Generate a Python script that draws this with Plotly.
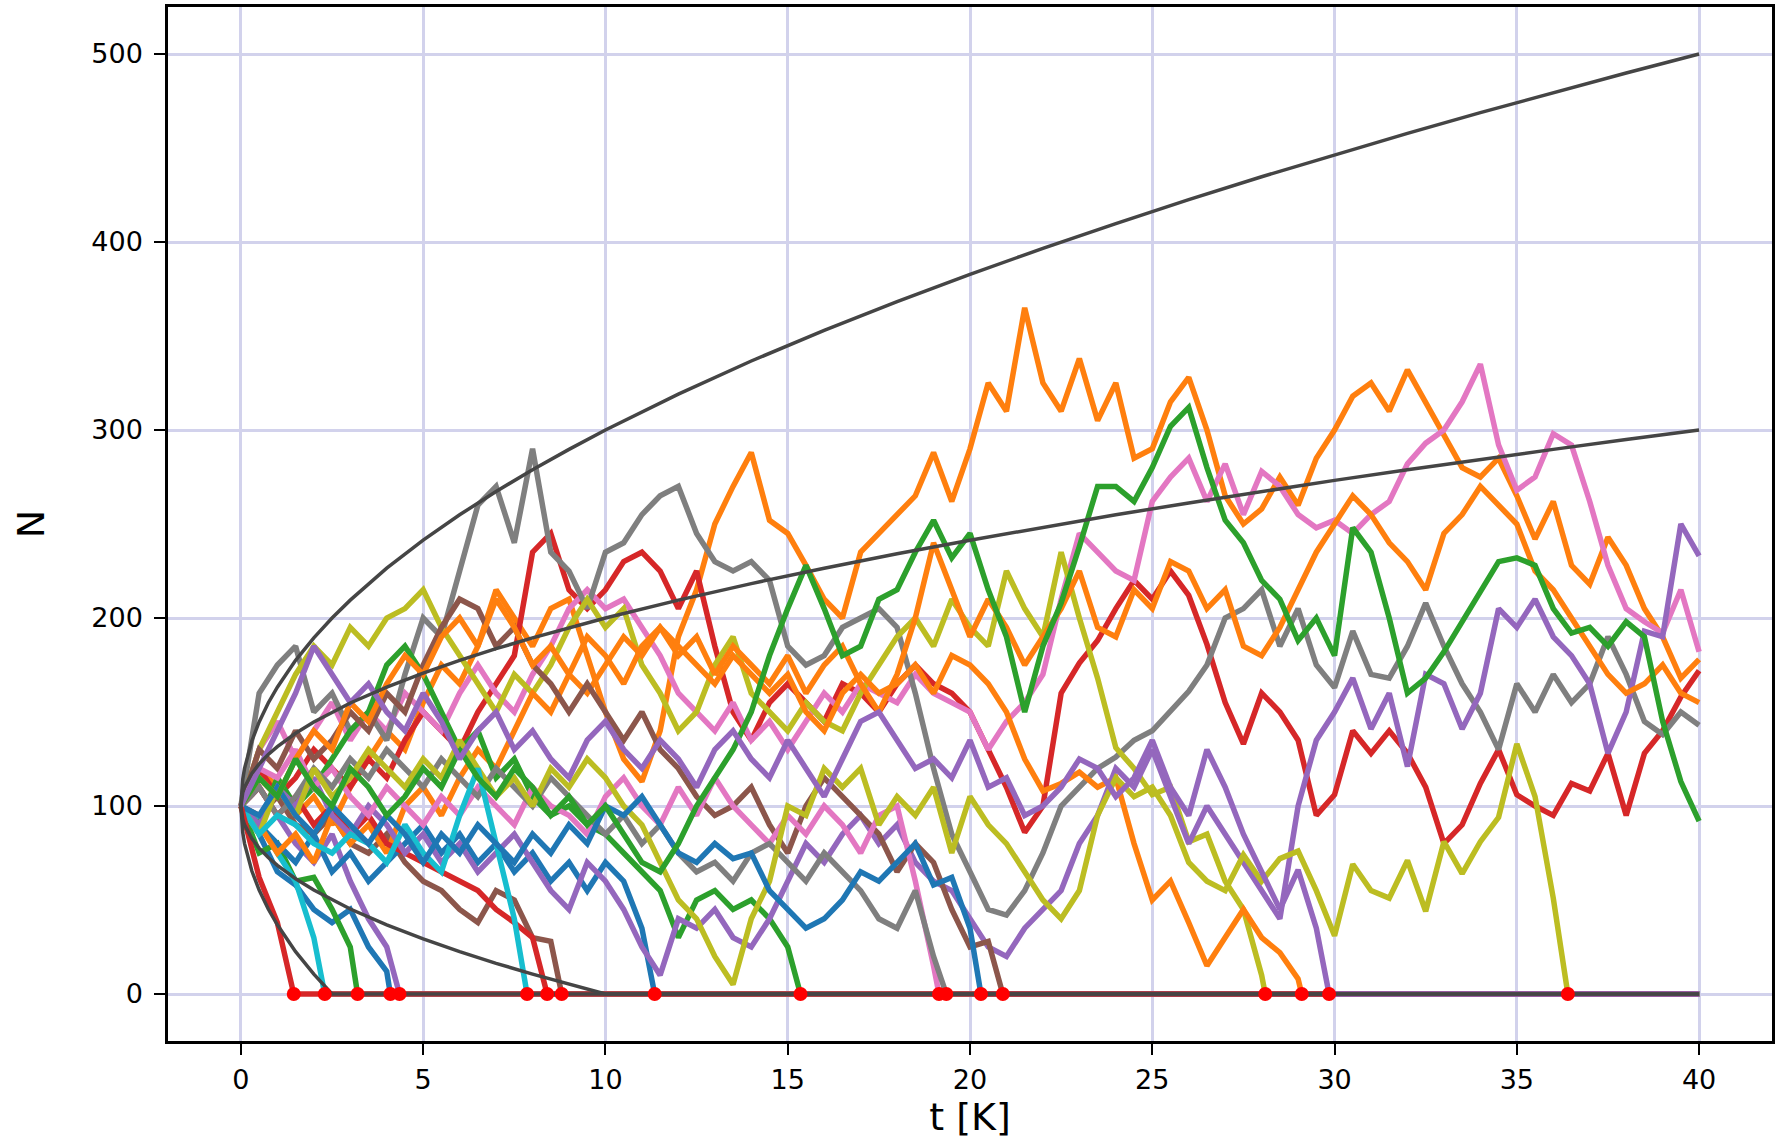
import plotly.graph_objects as go

# Population size N of 25 drifting lineages, sampled every 0.5 K generations.
# Lineages that go extinct stay at N = 0 afterwards.
t_step = 0.5
t_end = 40

walk_01 = [100, 85, 65, 58, 45, 38, 45, 25, 12]
walk_02 = [100, 120, 110, 95, 105, 90, 110, 125, 140, 130,
           155, 175, 165, 185, 215, 200, 185, 205, 210, 180,
           150, 125, 113, 140, 190, 215, 250, 270, 288, 252,
           245, 228, 210, 200, 235, 245, 255, 265, 288, 262,
           290, 325, 310, 365, 325, 310, 338, 305, 325, 285,
           290, 315, 328, 300, 265, 250, 258, 275, 260, 285,
           300, 318, 325, 310, 332, 315, 298, 280, 275, 285,
           265, 242, 262, 228, 218, 243, 228, 205, 190, 168,
           178]
walk_03 = [100, 75, 80, 60, 62, 45, 25]
walk_04 = [100, 120, 105, 115, 130, 120, 110, 125, 115, 135,
           150, 140, 130, 150, 165, 180, 235, 245, 215, 205,
           215, 230, 235, 225, 205, 225, 185, 150, 135, 155,
           165, 155, 145, 165, 160, 150, 165, 175, 165, 160,
           150, 130, 110, 86, 100, 160, 176, 188, 205, 220,
           210, 225, 212, 186, 155, 133, 160, 150, 135, 95,
           106, 140, 128, 140, 128, 110, 80, 90, 112, 130,
           106, 100, 95, 112, 108, 128, 95, 128, 140, 158,
           172]
walk_05 = [100, 110, 95, 80, 70, 85, 60, 40, 25]
walk_06 = [100, 95, 105, 90, 85, 95, 80, 75, 85, 70,
           60, 55, 45, 38, 55, 50, 30, 28]
walk_07 = [100, 130, 145, 125, 140, 155, 135, 150, 140, 160,
           150, 140, 160, 175, 160, 150, 170, 185, 205, 215,
           205, 210, 195, 180, 160, 150, 140, 155, 135, 145,
           130, 145, 160, 150, 165, 160, 155, 170, 160, 155,
           150, 130, 145, 155, 170, 210, 245, 235, 225, 220,
           262, 275, 285, 262, 282, 255, 278, 270, 255, 248,
           252, 245, 255, 262, 282, 293, 300, 315, 335, 292,
           268, 275, 298, 292, 262, 228, 205, 198, 192, 215,
           182]
walk_08 = [100, 160, 175, 185, 150, 160, 140, 150, 135, 170,
           200, 190, 225, 260, 270, 240, 290, 235, 225, 205,
           235, 240, 255, 265, 270, 245, 230, 225, 230, 220,
           185, 175, 180, 195, 200, 205, 195, 160, 120, 85,
           65, 45, 42, 55, 75, 100, 110, 120, 126, 135,
           140, 150, 161, 175, 200, 205, 215, 185, 205, 175,
           163, 193, 170, 168, 185, 208, 185, 165, 150, 130,
           165, 150, 170, 155, 165, 190, 170, 145, 138, 150,
           143]
walk_09 = [100, 130, 150, 170, 185, 175, 195, 185, 200, 205,
           215, 195, 180, 165, 150, 170, 160, 175, 195, 210,
           195, 205, 175, 160, 140, 150, 175, 190, 160, 150,
           140, 155, 145, 140, 160, 175, 190, 200, 185, 210,
           195, 185, 225, 205, 190, 235, 200, 168, 131, 120,
           106, 110, 81, 85, 60, 45, 10]
walk_10 = [100, 92, 75, 60, 30]
walk_11 = [100, 90, 80, 70, 85, 65, 75, 60, 70, 80,
           90, 75, 85, 70, 80, 65, 75, 60, 70, 55,
           70, 60, 35]
walk_12 = [100, 90, 75, 85, 70, 95, 80, 90, 75, 100,
           110, 95, 115, 130, 120, 140, 160, 150, 170, 160,
           175, 190, 180, 195, 185, 175, 165, 180, 170, 160,
           170, 150, 140, 160, 170, 160, 165, 175, 160, 180,
           175, 165, 150, 125, 108, 112, 118, 110, 115, 80,
           50, 60, 38, 15, 30, 45, 30, 22, 8]
walk_13 = [100, 90, 115, 100, 110, 125, 140, 150, 175, 185,
           170, 150, 130, 140, 115, 125, 105, 95, 100, 90,
           85, 75, 65, 55, 30, 50, 55, 45, 50, 40,
           25]
walk_14 = [100, 110, 95, 105, 90, 100, 85, 95, 80, 75,
           70, 65, 60, 55, 45, 38, 30]
walk_15 = [100, 90, 110, 100, 115, 95, 85, 100, 90, 75,
           85, 70, 80, 65, 75, 85, 70, 55, 45, 70,
           60, 45, 25, 10, 40, 35, 45, 30, 25, 40,
           60, 80, 70, 85, 95, 80, 90, 70, 60, 55,
           40, 25, 20, 35, 45, 55, 80, 95, 120, 110,
           130, 105, 80, 100, 85, 70, 55, 40, 100, 135,
           150, 168, 141, 160, 121, 170, 165, 141, 160, 205,
           195, 210, 190, 180, 165, 128, 150, 193, 190, 250,
           233]
walk_16 = [100, 130, 120, 140, 125, 135, 150, 140, 160, 150,
           175, 195, 210, 205, 185, 195, 175, 165, 150, 165,
           150, 135, 150, 130, 120, 105, 95, 100, 110, 90,
           75, 100, 115, 105, 95, 85, 65, 80, 70, 45,
           25, 28]
walk_17 = [100, 120, 115, 130, 110, 120, 105, 95, 110, 100,
           90, 105, 95, 110, 100, 90, 110, 100, 95, 85,
           105, 115, 100, 90, 110, 95, 115, 100, 90, 80,
           95, 85, 100, 90, 75, 95, 100, 60, 15]
walk_18 = [100, 110, 95, 105, 120, 110, 125, 115, 130, 120,
           110, 125, 115, 105, 120, 110, 100, 115, 105, 95,
           85, 95, 80, 90, 75, 65, 70, 60, 75, 80,
           70, 60, 75, 65, 55, 40, 35, 55, 20]
walk_19 = [100, 85, 110, 95, 120, 105, 115, 130, 120, 110,
           125, 115, 135, 120, 105, 115, 100, 120, 110, 125,
           115, 100, 90, 70, 50, 40, 20, 5, 40, 60,
           100, 95, 120, 110, 120, 90, 105, 95, 110, 75,
           105, 90, 80, 65, 50, 40, 55, 95, 115, 105,
           110, 95, 70, 60, 55, 74, 60, 72, 76, 55,
           31, 69, 55, 51, 71, 44, 81, 64, 81, 94,
           133, 105, 51]
walk_20 = [100, 85, 95, 90, 80, 75, 85, 80, 70, 90,
           75, 65, 95, 120, 80, 40]
walk_21 = [100, 95, 110, 95, 85, 100, 90, 80, 95, 85,
           70, 85, 75, 90, 80, 70, 85, 75, 90, 80,
           100, 95, 105, 90, 75, 70, 80, 72, 75, 55,
           45, 35, 40, 50, 65, 60, 70, 80, 58, 62,
           35]
walk_22 = [100, 115, 105, 125, 140, 130, 155, 145, 165, 180,
           170, 190, 200, 185, 210, 195, 175, 185, 170, 190,
           180, 165, 185, 195, 180, 190, 170, 185, 175, 165,
           180, 160, 175, 185, 165, 150, 170, 200, 240, 215,
           190, 210, 195, 175, 190, 205, 225, 195, 190, 215,
           205, 230, 225, 205, 215, 185, 180, 195, 215, 235,
           250, 265, 255, 240, 230, 215, 245, 255, 270, 260,
           250, 225, 215, 200, 185, 170, 160, 165, 175, 160,
           155]
walk_23 = [100, 115, 105, 125, 110, 100, 120, 110, 95, 105,
           120, 110, 130, 115, 105, 120, 110, 95, 105, 90,
           100, 85, 70, 65, 80, 100, 115, 130, 150, 180,
           205, 228, 205, 180, 185, 210, 215, 235, 252, 232,
           245, 215, 190, 150, 185, 208, 238, 270, 270, 262,
           280, 302, 312, 280, 252, 240, 220, 210, 188, 200,
           180, 248, 235, 200, 160, 168, 182, 198, 215, 230,
           232, 228, 205, 192, 195, 185, 198, 190, 145, 113,
           92]
walk_24 = [100, 62, 38]
walk_25 = [100, 120, 140, 160, 185, 170, 155, 165, 150, 140,
           160, 145, 125, 140, 150, 130, 140, 125, 115, 135,
           145, 130, 120, 135, 125, 110, 130, 140, 125, 115,
           135, 120, 105, 125, 145, 150, 135, 120, 125, 115,
           135, 110, 115, 95, 100, 110, 125, 120, 105, 115,
           135, 110, 95, 130, 110, 85, 65, 45, 66, 35]

walks = [walk_01, walk_02, walk_03, walk_04, walk_05, walk_06, walk_07,
         walk_08, walk_09, walk_10, walk_11, walk_12, walk_13, walk_14,
         walk_15, walk_16, walk_17, walk_18, walk_19, walk_20, walk_21,
         walk_22, walk_23, walk_24, walk_25]

# Time of extinction for each lineage (None = still alive at t = 40 K)
extinction_t = [4.1, None, 3.2, None, 4.35, 8.8, None, None, 28.1, 2.3,
                11.35, 29.1, 15.35, 8.4, None, 20.9, 19.15, 19.35, 36.4, 7.85,
                20.3, None, None, 1.45, 29.85]

# Envelope curves N0 +/- c*sqrt(t), clipped at zero
envelope_t = [0, 0.05, 0.1, 0.2, 0.3, 0.5, 0.75, 1, 1.5, 2, 2.5, 3, 4, 5, 6, 7,
              8, 9, 10, 12, 14, 16, 18, 20, 22, 24, 26, 28, 30, 32, 34, 36, 38, 40]
upper_outer = [100, 114.1, 120.0, 128.3, 134.6, 144.7, 154.8, 163.2, 177.5, 189.4,
               200.0, 209.5, 226.5, 241.4, 254.9, 267.3, 278.9, 289.7, 300.0, 319.1,
               336.7, 353.0, 368.3, 382.8, 396.6, 409.8, 422.5, 434.7, 446.4, 457.8,
               468.8, 479.5, 489.9, 500.0]
upper_inner = [100, 107.1, 110.0, 114.1, 117.3, 122.4, 127.4, 131.6, 138.7, 144.7,
               150.0, 154.8, 163.2, 170.7, 177.5, 183.7, 189.4, 194.9, 200.0, 209.5,
               218.3, 226.5, 234.2, 241.4, 248.3, 254.9, 261.2, 267.3, 273.2, 278.9,
               284.4, 289.7, 294.9, 300.0]
lower_inner = [100, 92.9, 90.0, 85.9, 82.7, 77.6, 72.6, 68.4, 61.3, 55.3,
               50.0, 45.2, 36.8, 29.3, 22.5, 16.3, 10.6, 5.1, 0, 0,
               0, 0, 0, 0, 0, 0, 0, 0, 0, 0,
               0, 0, 0, 0]
lower_outer = [100, 85.9, 80.0, 71.7, 65.4, 55.3, 45.2, 36.8, 22.5, 10.6,
               0, 0, 0, 0, 0, 0, 0, 0, 0, 0,
               0, 0, 0, 0, 0, 0, 0, 0, 0, 0,
               0, 0, 0, 0]

x_ticks = [0, 5, 10, 15, 20, 25, 30, 35, 40]
y_ticks = [0, 100, 200, 300, 400, 500]

tab10 = ["#1f77b4", "#ff7f0e", "#2ca02c", "#d62728", "#9467bd",
         "#8c564b", "#e377c2", "#7f7f7f", "#bcbd22", "#17becf"]

fig = go.Figure()

for i, vals in enumerate(walks):
    t = [k * t_step for k in range(len(vals))]
    n = list(vals)
    if extinction_t[i] is not None:
        t += [extinction_t[i], t_end]
        n += [0, 0]
    fig.add_trace(go.Scatter(x=t, y=n, mode="lines",
                             line=dict(color=tab10[i % 10], width=5.5),
                             hoverinfo="skip"))

for curve in (upper_outer, upper_inner, lower_inner, lower_outer):
    fig.add_trace(go.Scatter(x=envelope_t, y=curve, mode="lines",
                             line=dict(color="#454545", width=3.5),
                             hoverinfo="skip"))

ext_x = [e for e in extinction_t if e is not None]
fig.add_trace(go.Scatter(x=ext_x, y=[0] * len(ext_x), mode="markers",
                         marker=dict(color="red", size=14, line=dict(width=0)),
                         hoverinfo="skip"))

axis_common = dict(
    showgrid=True, gridcolor="#d2d2ec", gridwidth=2.5,
    zeroline=False, showline=True, linecolor="black", linewidth=2.5,
    mirror=True, ticks="outside", ticklen=11, tickwidth=2, tickcolor="black",
    tickfont=dict(size=27, color="black", family="DejaVu Sans"),
)

fig.update_xaxes(range=[-2, 42], tickvals=x_ticks, ticklabelstandoff=2,
                 title=dict(text="t [K]", font=dict(size=38, family="DejaVu Sans"),
                            standoff=8),
                 **axis_common)
fig.update_yaxes(range=[-25, 525], tickvals=y_ticks, ticklabelstandoff=6,
                 title=dict(text="N", font=dict(size=38, family="DejaVu Sans"),
                            standoff=36),
                 **axis_common)

fig.update_layout(
    width=1781, height=1141,
    margin=dict(l=168, r=9, t=7, b=100, autoexpand=False),
    plot_bgcolor="white", paper_bgcolor="white",
    showlegend=False,
    font=dict(family="DejaVu Sans", color="black"),
)

fig.write_html("out.html")
